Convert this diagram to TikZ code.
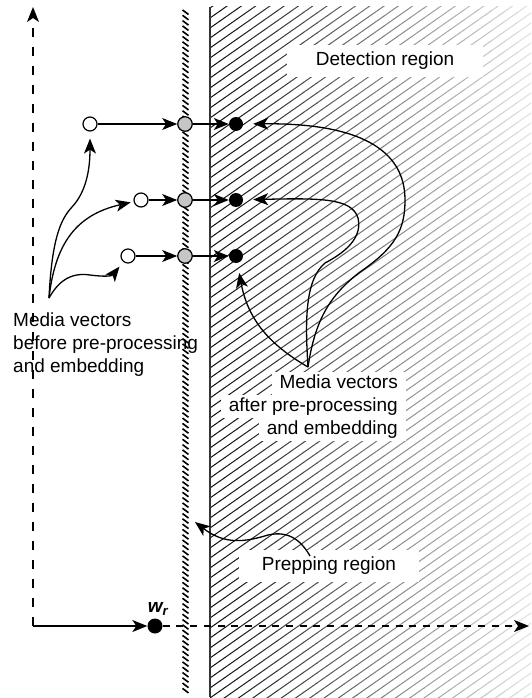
\documentclass[tikz,border=0pt]{standalone}
\usepackage{fontspec}
\setmainfont{Liberation Sans}
\usetikzlibrary{positioning, arrows.meta}

\begin{document}
\begin{tikzpicture}[
        x=1pt, y=-1pt,
        font=\fontsize{19}{23}\selectfont,
        % media vectors before processing
        raw/.style={circle, draw, line width=1.2pt, fill=white, minimum size=14pt, inner sep=0pt},
        % media vectors in the prepping region
        prepped/.style={circle, draw, line width=1.2pt, fill=gray!45, minimum size=14.5pt, inner sep=0pt},
        % media vectors after embedding
        embedded/.style={circle, fill=black, minimum size=14pt, inner sep=0pt},
        % arrows
        arrow/.style={-{Stealth[length=15pt, width=12pt, inset=4pt]}, line width=1.3pt},
        axis/.style={-{Stealth[length=15pt, width=12pt, inset=4pt]}, line width=1.5pt},
        % labels on a white patch
        patch/.style={fill=white, inner sep=0pt, align=center},
        lineback/.style={fill=white, inner xsep=8pt, inner ysep=2.5pt, text height=14pt, text depth=4pt, anchor=base east}
    ]
    \useasboundingbox (0,0) rectangle (531,698);

    % detection region, hatched and fading to the right
    \foreach \i in {0,...,23} {
        \pgfmathsetmacro\xa{210+\i*321/24}
        \pgfmathsetmacro\xb{\xa+321/24+0.6}
        \pgfmathsetmacro\tone{95-\i*82/23}
        \begin{scope}
            \clip (\xa,7) rectangle (\xb,697);
            \foreach \c in {8,18,...,930}
                \draw[black!\tone, line width=1pt] (210,\c) -- (531,{\c-225});
        \end{scope}
    }
    \draw[black!80, line width=1.7pt] (210,7) -- (210,697);

    % prepping region
    \foreach \y in {10,15.3,...,692}
        \draw[line width=1.6pt] (182.5,\y) -- (188.5,{\y+4.5});

    % labels
    \node[patch, minimum width=196pt, minimum height=32pt] (det) at (385,61) {Detection region};
    \node[patch, minimum width=180pt, minimum height=32pt] (prep) at (329,566) {Prepping region};
    \node[lineback] (mva1) at (406,388.6) {Media vectors};
    \node[lineback] (mva2) at (406,411.6) {after pre-processing};
    \node[lineback] (mva3) at (406,434.6) {and embedding};
    \node[anchor=north west, inner sep=0pt, align=left] (mvb) at (13,313) {Media vectors\\before pre-processing\\and embedding};

    % axes
    \coordinate (origin) at (33,626);
    \coordinate (ytop) at (33,7);
    \coordinate (xend) at (529,626);
    \node[circle, fill=black, minimum size=15pt, inner sep=0pt] (wr) at (155,626) {};
    \node[above=3pt of wr, xshift=3pt, inner sep=0pt] (wrlbl) {\bfseries\itshape w\textsubscript{r}};
    \draw[axis, dash pattern=on 9pt off 10pt] (origin) -- (ytop);
    \draw[axis, dash pattern=on 7pt off 6.7pt, line width=1.4pt] (wr) -- (xend);
    \draw[arrow] (origin) -- (wr);

    % media vectors
    \node[raw] (o1) at (90,124) {};
    \node[raw] (o2) at (141,200) {};
    \node[raw] (o3) at (128,256) {};
    \node[prepped] (g1) at (185,124) {};
    \node[prepped] (g2) at (185,200) {};
    \node[prepped] (g3) at (185,256) {};
    \node[embedded] (b1) at (236,124) {};
    \node[embedded] (b2) at (236,200) {};
    \node[embedded] (b3) at (236,256) {};

    \draw[arrow] (o1) -- (g1);
    \draw[arrow] (o2) -- (g2);
    \draw[arrow] (o3) -- (g3);
    \draw[arrow] (g1) -- (b1);
    \draw[arrow] (g2) -- (b2);
    \draw[arrow] (g3) -- (b3);

    % pointers from the labels
    \coordinate (mvbtop) at (49,298);
    \coordinate (mvatop) at (308,367);
    \coordinate (preptop) at (310,556);
    \coordinate (prepedge) at (195,522);

    \draw[arrow, shorten >=7pt] (mvbtop) .. controls (52,235) and (62,218) .. (72,207) .. controls (86,192) and (90,170) .. (o1);
    \draw[arrow, shorten >=3pt] (mvbtop) .. controls (55,245) and (75,215) .. (o2);
    \draw[arrow, shorten >=6pt] (mvbtop) .. controls (58,282) and (70,272) .. (90,275) .. controls (105,277) and (112,276) .. (o3);

    \draw[arrow, shorten >=10pt] (mvatop) .. controls (315,320) and (330,295) .. (360,272) .. controls (395,248) and (405,230) .. (405,200) .. controls (405,150) and (360,123) .. (b1);
    \draw[arrow, shorten >=10pt] (mvatop) .. controls (305,320) and (305,280) .. (325,263) .. controls (350,250) and (362,235) .. (358,218) .. controls (352,198) and (320,198) .. (b2);
    \draw[arrow, shorten >=10pt] (mvatop) .. controls (270,345) and (248,320) .. (b3);

    \draw[arrow] (preptop) .. controls (302,542) and (290,530) .. (268,535) .. controls (245,542) and (225,545) .. (prepedge);

\end{tikzpicture}
\end{document}
